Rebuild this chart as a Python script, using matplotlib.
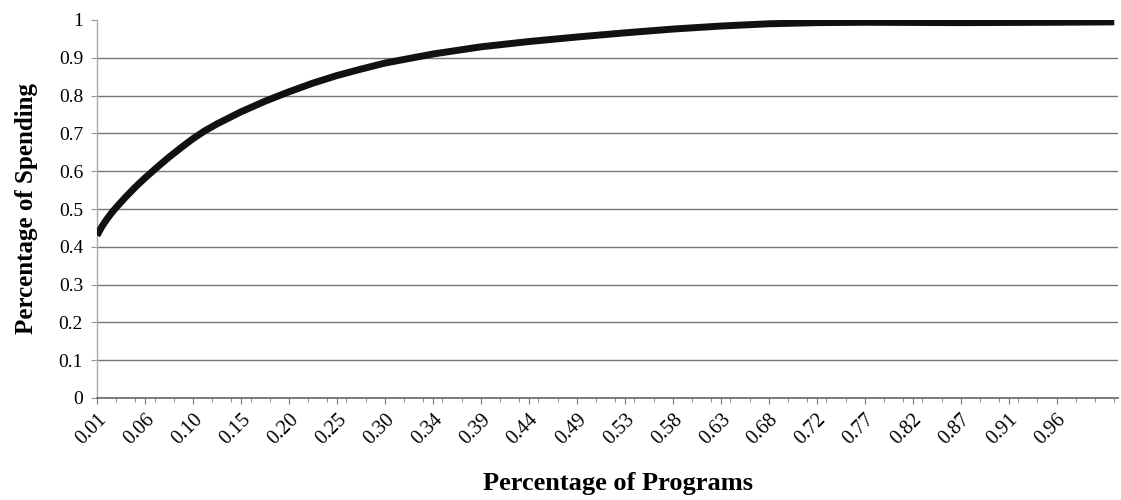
import numpy as np
import matplotlib.pyplot as plt

# cumulative share of spending vs. share of programs (sorted by size)
n_programs = 213
tick_labels = ["0.01", "0.06", "0.10", "0.15", "0.20", "0.25", "0.30", "0.34",
               "0.39", "0.44", "0.49", "0.53", "0.58", "0.63", "0.68", "0.72",
               "0.77", "0.82", "0.87", "0.91", "0.96"]
program_idx = [0, 1, 2, 3, 4, 6, 8, 10, 12.5, 15, 17.5, 20, 22.5, 25, 30, 35,
               40, 45, 50, 55, 60, 70, 80, 90, 100, 110, 120, 130, 140, 150,
               160, 180, 200, 212]
spending = [0.430, 0.453, 0.472, 0.489, 0.504, 0.532, 0.558, 0.582, 0.610,
            0.637, 0.662, 0.686, 0.707, 0.725, 0.757, 0.785, 0.810, 0.833,
            0.853, 0.870, 0.886, 0.910, 0.929, 0.943, 0.955, 0.966, 0.976,
            0.984, 0.990, 0.993, 0.994, 0.993, 0.994, 0.995]

plt.rcParams['font.family'] = ['Liberation Serif', 'DejaVu Serif']

fig = plt.figure(figsize=(11.21, 5.0), dpi=100)
ax = fig.add_axes([0.0865, 0.204, 0.9105, 0.756])

ax.plot(program_idx, spending, color='#111111', lw=5, solid_capstyle='butt',
        solid_joinstyle='round', zorder=3)

ax.set_xlim(0, n_programs - 0.3)
ax.set_ylim(0, 1)

ax.set_yticks(np.round(np.arange(0, 1.01, 0.1), 1))
ax.set_yticklabels(['0'] + ['%.1f' % v for v in np.arange(0.1, 0.95, 0.1)] + ['1'])
ax.yaxis.grid(True, color='#777777', lw=1.0)
grid = ax.get_ygridlines()
grid[0].set_visible(False)
grid[-1].set_visible(False)

ax.set_xticks(np.arange(len(tick_labels)) * 10)
ax.set_xticklabels(tick_labels, rotation=45, ha='right', va='top',
                   rotation_mode='anchor')
ax.set_xticks(np.arange(0, n_programs, 4), minor=True)

ax.tick_params(axis='y', labelsize=14, length=4, color='#999999', pad=6)
ax.tick_params(axis='x', which='major', labelsize=14.5, length=4,
               color='#777777', pad=5)
ax.tick_params(axis='x', which='minor', length=3, color='#777777')

for side in ('top', 'right'):
    ax.spines[side].set_visible(False)
ax.spines['left'].set_color('#aaaaaa')
ax.spines['left'].set_linewidth(1.0)
ax.spines['bottom'].set_color('#666666')
ax.spines['bottom'].set_linewidth(1.2)

ax.set_xlabel('Percentage of Programs', fontsize=19, fontweight='bold')
ax.xaxis.set_label_coords(0.51, -0.195)
ax.set_ylabel('Percentage of Spending', fontsize=18, fontweight='bold')
ax.yaxis.set_label_coords(-0.058, 0.5)

fig.savefig('out.png', dpi=100)
